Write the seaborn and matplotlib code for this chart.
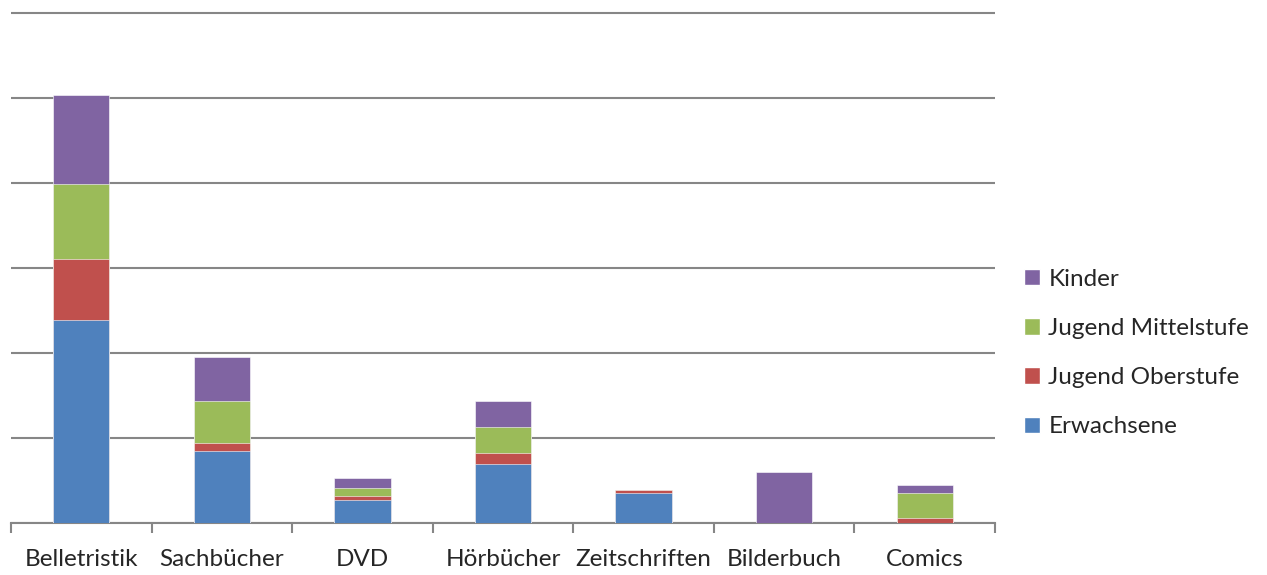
import matplotlib
matplotlib.use("Agg")
import matplotlib.pyplot as plt
from matplotlib.patches import Patch
import numpy as np
import pandas as pd
import seaborn as sns

categories = ["Belletristik", "Sachbücher", "DVD", "Hörbücher", "Zeitschriften", "Bilderbuch", "Comics"]
erwachsene = [239, 85, 27, 69, 35, 0, 0]
jugend_oberstufe = [71, 9, 5, 13, 4, 0, 6]
jugend_mittelstufe = [89, 50, 9, 31, 0, 0, 29]
kinder = [104, 51, 12, 31, 0, 60, 10]

series = ["Erwachsene", "Jugend Oberstufe", "Jugend Mittelstufe", "Kinder"]
colors = ["#4F81BD", "#C0504D", "#9BBB59", "#8064A2"]

df = pd.DataFrame({"Kategorie": categories, "Erwachsene": erwachsene,
                   "Jugend Oberstufe": jugend_oberstufe,
                   "Jugend Mittelstufe": jugend_mittelstufe, "Kinder": kinder})
cum = df[series].cumsum(axis=1)
cum["Kategorie"] = df["Kategorie"]

sns.set_style("white")
plt.rcParams["font.family"] = ["Lato", "DejaVu Sans"]

fig = plt.figure(figsize=(12.67, 5.75), dpi=100)
ax = fig.add_axes([0.0087, 0.0904, 0.7766, 0.8900])

# draw from the top layer down so lower segments cover the stacked totals
for s, c in zip(series[::-1], colors[::-1]):
    sns.barplot(data=cum, x="Kategorie", y=s, color=c, width=0.4, ax=ax,
                saturation=1, edgecolor="white", linewidth=0.4, zorder=3)

ax.set_ylim(0, 602)
ax.set_xlim(-0.5, 6.5)
ax.set_yticks(np.arange(0, 601, 100))
ax.set_yticklabels([])
ax.tick_params(axis="y", length=0)
ax.yaxis.grid(True, color="#868686", linewidth=1.5, zorder=0)
ax.set_axisbelow(True)
for sp in ["top", "left", "right"]:
    ax.spines[sp].set_visible(False)
ax.spines["bottom"].set_color("#868686")
ax.spines["bottom"].set_linewidth(1.5)
ax.set_xticks(range(len(categories)))
ax.set_xticklabels(categories, fontsize=17.5)
ax.set_xticks(np.arange(-0.5, 7, 1), minor=True)
ax.tick_params(axis="x", which="major", bottom=True, length=0, pad=19)
ax.tick_params(axis="x", which="minor", bottom=True, length=7, width=1.5,
               color="#868686", direction="out")
ax.set_xlabel("")
ax.set_ylabel("")

handles = [Patch(facecolor=c, label=s) for s, c in zip(series[::-1], colors[::-1])]
fig.legend(handles=handles, loc="center left", bbox_to_anchor=(0.791, 0.386),
           frameon=False, fontsize=17.5, handlelength=0.65, handleheight=0.65,
           handletextpad=0.35, labelspacing=1.16)

fig.savefig("out.png", dpi=100)
